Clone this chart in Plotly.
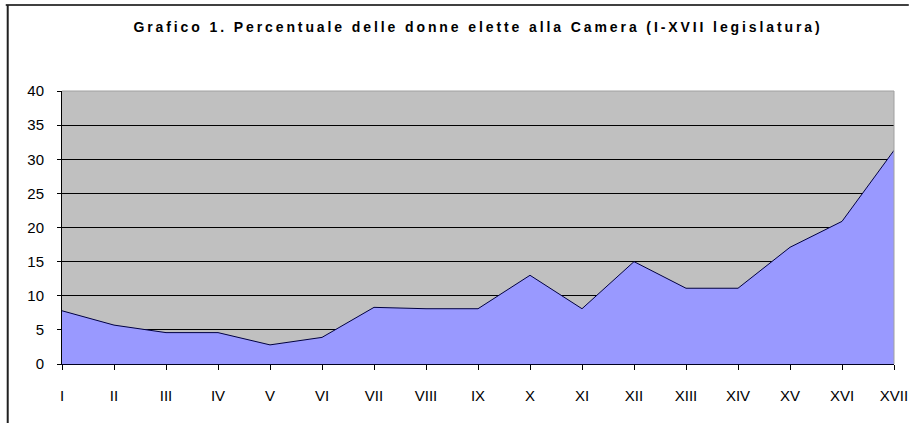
import plotly.graph_objects as go

legislature = ["I", "II", "III", "IV", "V", "VI", "VII", "VIII", "IX", "X",
               "XI", "XII", "XIII", "XIV", "XV", "XVI", "XVII"]
percent_women = [7.8, 5.7, 4.6, 4.6, 2.8, 3.9, 8.3, 8.1, 8.1, 13.0,
                 8.1, 15.0, 11.1, 11.1, 17.1, 20.9, 31.3]
y_ticks = [0, 5, 10, 15, 20, 25, 30, 35, 40]
title_text = "Grafico 1. Percentuale delle donne elette alla Camera (I-XVII legislatura)"

W, H = 920, 423
L, R, T, B = 62, 15, 91, 59
pw, ph = W - L - R, H - T - B

def px_x(p):
    return (p - L) / pw

def px_y(p):
    return (H - B - p) / ph

x_idx = list(range(len(legislature)))

fig = go.Figure()
fig.add_trace(go.Scatter(
    x=x_idx, y=percent_women, mode="lines", fill="tozeroy",
    fillcolor="#9999FF", line=dict(color="#000040", width=1),
    hoverinfo="skip", showlegend=False))

font = "Arial, Liberation Sans, sans-serif"
fig.update_layout(
    width=W, height=H,
    margin=dict(l=L, r=R, t=T, b=B),
    paper_bgcolor="white", plot_bgcolor="#C0C0C0",
    showlegend=False,
    font=dict(family=font, size=15, color="black"),
    title=dict(text="<b>" + title_text + "</b>", x=478 / W, xanchor="center",
               y=1 - 27 / H, yanchor="middle", yref="container",
               font=dict(family=font, size=14, color="black")),
    xaxis=dict(range=[0, len(legislature) - 1], tickvals=x_idx, ticktext=legislature,
               showgrid=False, zeroline=False, showline=True, linecolor="#000020",
               linewidth=1, ticks="outside", ticklen=5, tickcolor="black",
               ticklabelstandoff=13, tickfont=dict(size=15), fixedrange=True),
    yaxis=dict(range=[0, 40], tickvals=y_ticks, showgrid=True, gridcolor="black",
               gridwidth=1, zeroline=False, showline=True, linecolor="black",
               linewidth=1, ticks="outside", ticklen=4, tickcolor="black",
               ticklabelstandoff=10, tickfont=dict(size=15), fixedrange=True),
    shapes=[
        # plot area top and right border
        dict(type="line", xref="paper", yref="paper", x0=0, x1=1, y0=1, y1=1,
             line=dict(color="#A0A0A0", width=1)),
        dict(type="line", xref="paper", yref="paper", x0=1, x1=1, y0=0, y1=1,
             line=dict(color="#A0A0A0", width=1)),
        # outer chart frame (top and left)
        dict(type="line", xref="paper", yref="paper", x0=px_x(5), x1=px_x(W),
             y0=px_y(5), y1=px_y(5), line=dict(color="#404040", width=2)),
        dict(type="line", xref="paper", yref="paper", x0=px_x(7), x1=px_x(7),
             y0=px_y(5), y1=px_y(H), line=dict(color="#202020", width=2)),
    ],
)

post = ("document.body.style.margin='0';"
        "document.querySelectorAll('.gtitle').forEach(function(t){t.style.letterSpacing='2.9px';});")
fig.write_html("out.html", post_script=post, config={"displayModeBar": False})
